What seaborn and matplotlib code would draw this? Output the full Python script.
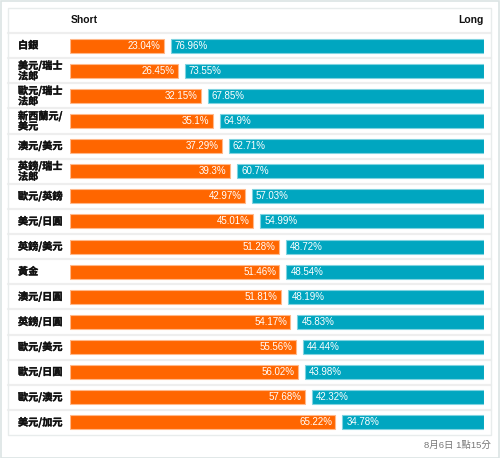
import numpy as np
import pandas as pd
import matplotlib
matplotlib.use("Agg")
import matplotlib.pyplot as plt
import matplotlib.patheffects as pe
from matplotlib.patches import Rectangle
import seaborn as sns

# ====== 数据 ======
pairs = ["白銀", "美元/瑞士\n法郎", "歐元/瑞士\n法郎", "新西蘭元/\n美元", "澳元/美元",
         "英鎊/瑞士\n法郎", "歐元/英鎊", "美元/日圓", "英鎊/美元", "黃金", "澳元/日圓",
         "英鎊/日圓", "歐元/美元", "歐元/日圓", "歐元/澳元", "美元/加元"]
short_pct = [23.04, 26.45, 32.15, 35.1, 37.29, 39.3, 42.97, 45.01,
             51.28, 51.46, 51.81, 54.17, 55.56, 56.02, 57.68, 65.22]
long_pct = [76.96, 73.55, 67.85, 64.9, 62.71, 60.7, 57.03, 54.99,
            48.72, 48.54, 48.19, 45.83, 44.44, 43.98, 42.32, 34.78]
short_lbl = ["23.04%", "26.45%", "32.15%", "35.1%", "37.29%", "39.3%", "42.97%", "45.01%",
             "51.28%", "51.46%", "51.81%", "54.17%", "55.56%", "56.02%", "57.68%", "65.22%"]
long_lbl = ["76.96%", "73.55%", "67.85%", "64.9%", "62.71%", "60.7%", "57.03%", "54.99%",
            "48.72%", "48.54%", "48.19%", "45.83%", "44.44%", "43.98%", "42.32%", "34.78%"]
footer = "8月6日 1點15分"

df = pd.DataFrame({"pair": pairs, "short": short_pct, "long": long_pct})

ORANGE = "#ff6600"
TEAL = "#00a6c0"
GAP = 1.72  # 两段之间的白色间隔（百分比单位）
W, H = 500, 458

sns.set_theme(style="white")
plt.rcParams["font.family"] = ["Liberation Sans", "Noto Sans CJK TC", "DejaVu Sans"]
CJK = ["Noto Sans CJK TC", "DejaVu Sans"]
bold_fx = [pe.withStroke(linewidth=0.25, foreground="#111111")]

fig = plt.figure(figsize=(5, 4.58), dpi=100)
fig.patch.set_facecolor("white")

# 外框 + 表格框
fig.add_artist(Rectangle((0.5 / W, 0.5 / H), (W - 1.5) / W, (H - 1.5) / H,
                         transform=fig.transFigure, fill=False,
                         edgecolor="#dce4e4", lw=1.2))
fig.add_artist(Rectangle((8 / W, (H - 435) / H), 483 / W, 427 / H,
                         transform=fig.transFigure, fill=False,
                         edgecolor="#e8ecec", lw=1.0))

ax = fig.add_axes([70 / W, (H - 435) / H, 414 / W, 402 / H])
ax.set_facecolor("none")

sns.barplot(data=df, x="short", y="pair", orient="h", color=ORANGE,
            width=0.56, ax=ax, saturation=1, edgecolor="#ffb88a", linewidth=0.8)
ax.barh(np.arange(len(df)), df["long"], left=df["short"] + GAP, height=0.56,
        color=TEAL, edgecolor="#7fd3e0", linewidth=0.8)

ax.set_xlim(0, 100 + GAP)
ax.set_ylim(len(df) - 0.5, -0.5)
ax.set_xlabel("")
ax.set_ylabel("")
ax.set_xticks([])
ax.set_yticks([])
for s in ax.spines.values():
    s.set_visible(False)

ytr = ax.get_yaxis_transform()
x0, x1 = (8 - 70) / 414, (491 - 70) / 414
for i in range(len(df)):
    ax.plot([x0, x1], [i - 0.5, i - 0.5], transform=ytr, clip_on=False,
            color="#eeeeee", lw=1.6, zorder=0)
    ax.text((18 - 70) / 414, i, df["pair"][i], transform=ytr, ha="left", va="center",
            fontsize=7.3, fontweight="bold", family=CJK, linespacing=0.95,
            color="#111111", path_effects=bold_fx)
    ax.text(df["short"][i] - 0.8, i, short_lbl[i], ha="right", va="center",
            fontsize=7, color="white")
    ax.text(df["short"][i] + GAP + 1.0, i, long_lbl[i], ha="left", va="center",
            fontsize=7, color="white")

# 表头
ax.text(0.002, -1.02, "Short", transform=ytr, ha="left", va="center", fontsize=7.5,
        fontweight="bold", color="#111111")
ax.text(1.0, -1.02, "Long", transform=ytr, ha="right", va="center", fontsize=7.5,
        fontweight="bold", color="#111111")

# 页脚时间
fig.text(491 / W, 1 - 445 / H, footer, ha="right", va="center",
         fontsize=6.8, color="#777777")

fig.savefig("out.png", dpi=100)
